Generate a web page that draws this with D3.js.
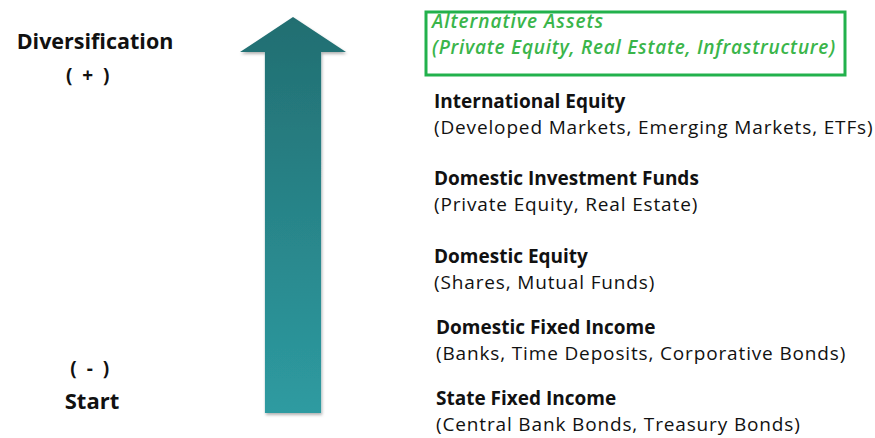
<html>
<head>
<script src="https://d3js.org/d3.v7.min.js"></script>
<style>
  body { margin: 0; background: #fff; }
  text { font-family: "Open Sans", "Liberation Sans", sans-serif; }
</style>
</head>
<body>
<svg id="chart" width="875" height="438"></svg>
<script>
// tiers from most diversified (top) to start (bottom)
const tierTitles = ["Alternative Assets", "International Equity", "Domestic Investment Funds",
                    "Domestic Equity", "Domestic Fixed Income", "State Fixed Income"];
const tierDetails = ["(Private Equity, Real Estate, Infrastructure)",
                     "(Developed Markets, Emerging Markets, ETFs)",
                     "(Private Equity, Real Estate)",
                     "(Shares, Mutual Funds)",
                     "(Banks, Time Deposits, Corporative Bonds)",
                     "(Central Bank Bonds, Treasury Bonds)"];
const tierCenters = [34, 114, 191, 269, 340, 411]; // vertical centre of each block
const topLabels = ["Diversification", "( + )"];
const bottomLabels = ["( - )", "Start"];

const svg = d3.select("svg#chart");

// gradient for arrow
const defs = svg.append("defs");
const grad = defs.append("linearGradient").attr("id", "arrowGrad")
  .attr("x1", 0).attr("y1", 0).attr("x2", 0).attr("y2", 1);
grad.append("stop").attr("offset", "0%").attr("stop-color", "#226e71");
grad.append("stop").attr("offset", "100%").attr("stop-color", "#2e9ba1");
const shadow = defs.append("filter").attr("id", "shadow")
  .attr("x", "-20%").attr("y", "-10%").attr("width", "140%").attr("height", "120%");
shadow.append("feDropShadow").attr("dx", 1).attr("dy", 2).attr("stdDeviation", 1.5)
  .attr("flood-color", "#000").attr("flood-opacity", 0.3);

// arrow: vertical scale runs from start (0) to diversification (1)
const yScale = d3.scaleLinear().domain([0, 1]).range([413, 17]);
const xArrow = d3.scaleLinear().domain([-1, 1]).range([240, 346]);
const headBase = 52, shaftHalf = 0.53;
const arrowPts = [
  [xArrow(0), yScale(1)],
  [xArrow(1), headBase],
  [xArrow(shaftHalf), headBase],
  [xArrow(shaftHalf), yScale(0)],
  [xArrow(-shaftHalf), yScale(0)],
  [xArrow(-shaftHalf), headBase],
  [xArrow(-1), headBase]
];
svg.append("path")
  .attr("d", d3.line()(arrowPts) + "Z")
  .attr("fill", "url(#arrowGrad)")
  .attr("filter", "url(#shadow)");

// left labels
const left = svg.append("g").attr("font-weight", "bold").attr("fill", "#111").attr("text-anchor", "middle");
left.selectAll("text.top").data(topLabels).join("text")
  .attr("class", "top")
  .attr("x", (d, i) => i === 0 ? 95 : 89)
  .attr("y", (d, i) => i === 0 ? 49 : 82)
  .attr("font-size", (d, i) => i === 0 ? 21.5 : 19)
  .attr("letter-spacing", (d, i) => i === 0 ? 0 : 2.5)
  .text(d => d);
left.selectAll("text.bot").data(bottomLabels).join("text")
  .attr("class", "bot")
  .attr("x", (d, i) => i === 0 ? 91 : 92)
  .attr("y", (d, i) => i === 0 ? 375 : 409)
  .attr("font-size", (d, i) => i === 0 ? 19 : 22)
  .attr("letter-spacing", (d, i) => i === 0 ? 2.5 : 0)
  .text(d => d);

// highlight box around top tier
svg.append("rect")
  .attr("x", 426).attr("y", 12).attr("width", 419).attr("height", 63)
  .attr("fill", "none").attr("stroke", "#22b14c").attr("stroke-width", 3);

// tier labels
const tiers = svg.append("g");
const tierG = tiers.selectAll("g").data(tierTitles).join("g")
  .attr("transform", (d, i) => "translate(" + (i === 0 ? 432 : (i >= 4 ? 436 : 434)) + "," + tierCenters[i] + ")");
tierG.append("text")
  .attr("y", -6)
  .attr("font-size", 19)
  .attr("font-weight", (d, i) => i === 0 ? 600 : "bold")
  .attr("font-style", (d, i) => i === 0 ? "italic" : "normal")
  .attr("letter-spacing", (d, i) => i === 0 ? 1.0 : 0)
  .attr("fill", (d, i) => i === 0 ? "#3ab54a" : "#111")
  .text(d => d);
tierG.append("text")
  .attr("y", 20)
  .attr("font-size", 19)
  .attr("font-weight", (d, i) => i === 0 ? 600 : "normal")
  .attr("font-style", (d, i) => i === 0 ? "italic" : "normal")
  .attr("letter-spacing", (d, i) => i === 0 ? 0.75 : 0.85)
  .attr("fill", (d, i) => i === 0 ? "#3ab54a" : "#111")
  .text((d, i) => tierDetails[i]);
</script>
</body>
</html>
